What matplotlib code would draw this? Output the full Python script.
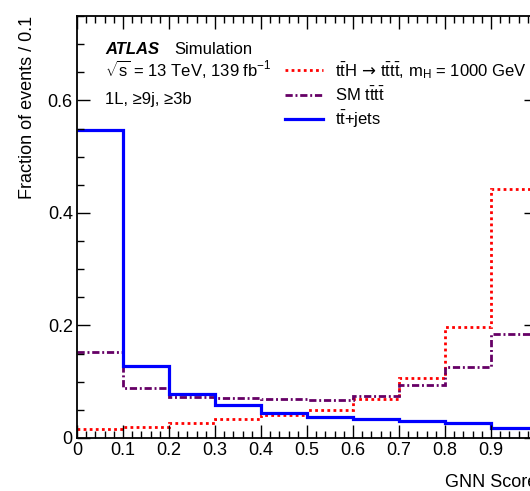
import numpy as np
import matplotlib
matplotlib.use("Agg")
import matplotlib.pyplot as plt
from matplotlib.ticker import MultipleLocator, FuncFormatter

plt.rcParams['font.family'] = ['Liberation Sans', 'DejaVu Sans']
plt.rcParams['mathtext.fontset'] = 'custom'
plt.rcParams['mathtext.rm'] = 'Liberation Sans'
plt.rcParams['mathtext.it'] = 'Liberation Sans:italic'
plt.rcParams['mathtext.bf'] = 'Liberation Sans:bold'
plt.rcParams['mathtext.sf'] = 'DejaVu Sans'

# ---- data ----
bin_edges = [0.0, 0.1, 0.2, 0.3, 0.4, 0.5, 0.6, 0.7, 0.8, 0.9, 1.0]
tth_tttt = [0.016, 0.019, 0.027, 0.034, 0.040, 0.049, 0.070, 0.106, 0.197, 0.443]
sm_tttt = [0.152, 0.088, 0.073, 0.071, 0.069, 0.067, 0.075, 0.095, 0.127, 0.185]
ttbar_jets = [0.548, 0.128, 0.079, 0.059, 0.044, 0.037, 0.034, 0.030, 0.027, 0.017]

labels = [r"$\mathrm{t\bar{t}H}\,\mathsf{\rightarrow}\,\mathrm{t\bar{t}t\bar{t}}$, m$_{\mathrm{H}}$ = 1000 GeV",
          r"SM $\mathrm{t\bar{t}t\bar{t}}$",
          r"$\mathrm{t\bar{t}}$+jets"]

fig = plt.figure(figsize=(5.30, 4.91), dpi=100)
ax = fig.add_axes([77/530, 1-438/491, 460/530, 422/491])

h1 = ax.stairs(tth_tttt, bin_edges, baseline=None, color='#ff0000', lw=2.0,
               linestyle=(0, (1, 1.2)), label=labels[0])
h2 = ax.stairs(sm_tttt, bin_edges, baseline=None, color='#660066', lw=2.0,
               linestyle=(0, (2.6, 1.0, 0.7, 1.0)), label=labels[1])
h3 = ax.stairs(ttbar_jets, bin_edges, baseline=None, color='#0000ff', lw=2.3,
               label=labels[2])

ax.set_xlim(0, 1)
ax.set_ylim(0, 0.75)

ax.xaxis.set_major_locator(MultipleLocator(0.1))
ax.xaxis.set_minor_locator(MultipleLocator(0.02))
ax.yaxis.set_major_locator(MultipleLocator(0.2))
ax.yaxis.set_minor_locator(MultipleLocator(0.05))

def fmt(v, pos):
    if abs(v) < 1e-9:
        return "0"
    if v > 0.95:
        return ""  # off the visible crop
    return "%.1f" % v

ax.xaxis.set_major_formatter(FuncFormatter(fmt))
ax.yaxis.set_major_formatter(FuncFormatter(fmt))

ax.tick_params(which='both', direction='in', top=True, right=True, width=1.0, labelsize=13, pad=3)
ax.tick_params(which='major', length=9.5)
ax.tick_params(which='minor', length=5.0)
for s in ax.spines.values():
    s.set_linewidth(1.3)

ax.set_ylabel("Fraction of events / 0.1", fontsize=13, ha='right')
ax.yaxis.set_label_coords(-0.09, 1.0)
ax.set_xlabel("GNN Score", fontsize=13, ha='right', va='top')
ax.xaxis.set_label_coords(1.0, -0.085)

# ATLAS label
fig.text(105/530, 1-54/491, "ATLAS", fontsize=12, fontweight='bold', fontstyle='italic', va='baseline')
fig.text(174/530, 1-54/491, "Simulation", fontsize=12, va='baseline')
fig.text(105/530, 1-76/491, r"$\sqrt{\mathrm{s}}$ = 13 TeV, 139 fb$^{-1}$", fontsize=12, va='baseline')
fig.text(105/530, 1-104/491, "1L, \u22659j, \u22653b", fontsize=12, va='baseline')

leg = ax.legend(handles=[h1, h2, h3], labels=labels, loc='upper left',
                bbox_to_anchor=(285/530, 1-60/491), bbox_transform=fig.transFigure,
                frameon=False, fontsize=12, handlelength=2.3, handletextpad=0.7,
                labelspacing=0.3, borderpad=0, borderaxespad=0)

fig.savefig("out.png", dpi=100)
